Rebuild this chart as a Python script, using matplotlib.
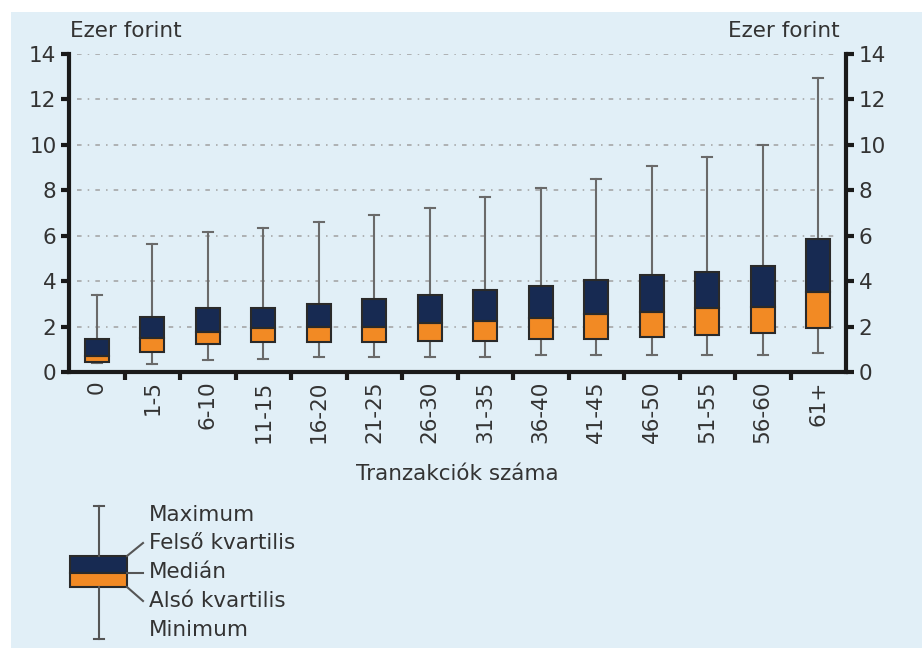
import matplotlib
matplotlib.use('Agg')
import matplotlib.pyplot as plt
from matplotlib.patches import Rectangle
from matplotlib.lines import Line2D

categories = ['0', '1-5', '6-10', '11-15', '16-20', '21-25', '26-30', '31-35',
              '36-40', '41-45', '46-50', '51-55', '56-60', '61+']
minimum = [0.38, 0.35, 0.53, 0.59, 0.67, 0.67, 0.67, 0.67, 0.75, 0.75, 0.75, 0.75, 0.75, 0.85]
lower_q = [0.43, 0.89, 1.22, 1.31, 1.31, 1.31, 1.38, 1.38, 1.45, 1.45, 1.53, 1.63, 1.70, 1.93]
median = [0.72, 1.51, 1.78, 1.92, 2.00, 2.00, 2.17, 2.25, 2.39, 2.56, 2.63, 2.81, 2.88, 3.51]
upper_q = [1.45, 2.44, 2.83, 2.83, 3.00, 3.23, 3.39, 3.63, 3.80, 4.04, 4.27, 4.42, 4.67, 5.86]
maximum = [3.38, 5.62, 6.18, 6.33, 6.59, 6.89, 7.21, 7.69, 8.09, 8.49, 9.07, 9.46, 10.0, 12.96]
yticks = [0, 2, 4, 6, 8, 10, 12, 14]
legend_labels = ['Maximum', 'Felső kvartilis', 'Medián', 'Alsó kvartilis', 'Minimum']

BG = '#e1eff7'
NAVY = '#172a52'
ORANGE = '#f28a24'
TXT = '#333333'
FS = 15.5
plt.rcParams['font.family'] = ['DejaVu Sans']

fig = plt.figure(figsize=(9.22, 6.48), dpi=100)
fig.patch.set_facecolor('white')
fig.patches.append(Rectangle((11 / 922, 0), 1, 1 - 12 / 648, transform=fig.transFigure,
                             facecolor=BG, edgecolor='none', zorder=-10))

ax = fig.add_axes([69 / 922, 1 - 372 / 648, (846 - 69) / 922, (372 - 54) / 648])
ax.set_facecolor('none')
n = len(categories)
x = list(range(n))
w = 0.43
for i in x:
    ax.plot([i, i], [minimum[i], lower_q[i]], color='#6a6a6a', lw=1.5, zorder=2)
    ax.plot([i, i], [upper_q[i], maximum[i]], color='#6a6a6a', lw=1.5, zorder=2)
    for v in (minimum[i], maximum[i]):
        ax.plot([i - 0.09, i + 0.09], [v, v], color='#6a6a6a', lw=1.5, zorder=2)
    ax.bar(i, median[i] - lower_q[i], bottom=lower_q[i], width=w, color=ORANGE,
           edgecolor='#2a2a2a', linewidth=1.5, zorder=3)
    ax.bar(i, upper_q[i] - median[i], bottom=median[i], width=w, color=NAVY,
           edgecolor='#2a2a2a', linewidth=1.5, zorder=3)

ax.set_xlim(-0.5, n - 0.5)
ax.set_ylim(0, 14)
for y in yticks[1:]:
    ax.plot([-0.35, n - 0.65], [y, y], color='#a0a0a0', lw=1.1,
            linestyle=(0, (3, 4, 1, 4)), zorder=1)

for s in ('left', 'right', 'bottom'):
    ax.spines[s].set_linewidth(3)
    ax.spines[s].set_color('#1a1a1a')
ax.spines['top'].set_visible(False)

ax.set_yticks(yticks)
ax.tick_params(axis='y', which='both', left=True, right=True, labelleft=True, labelright=True,
               direction='out', length=6, width=3, color='#1a1a1a', labelsize=FS,
               labelcolor=TXT, pad=3)
ax.set_xticks([i + 0.5 for i in x[:-1]], minor=False)
ax.set_xticklabels([])
ax.tick_params(axis='x', which='major', direction='out', length=6, width=3, color='#1a1a1a')
ax.set_xticks(x, minor=True)
ax.set_xticklabels(categories, minor=True, rotation=90, fontsize=FS, color=TXT)
ax.tick_params(axis='x', which='minor', length=0, pad=6)

fig.text(70 / 922, 1 - 31 / 648, 'Ezer forint', fontsize=FS, color=TXT, va='center', ha='left')
fig.text(840 / 922, 1 - 31 / 648, 'Ezer forint', fontsize=FS, color=TXT, va='center', ha='right')
fig.text(457 / 922, 1 - 474 / 648, 'Tranzakciók száma', fontsize=FS, color=TXT,
         va='center', ha='center')

# legend sketch
def fx(px):
    return px / 922

def fy(py):
    return 1 - py / 648

lkw = dict(transform=fig.transFigure, color='#555555', lw=1.5)
fig.lines.append(Line2D([fx(99), fx(99)], [fy(506), fy(556)], **lkw))
fig.lines.append(Line2D([fx(99), fx(99)], [fy(587), fy(639)], **lkw))
fig.lines.append(Line2D([fx(94), fx(104)], [fy(506), fy(506)], **lkw))
fig.lines.append(Line2D([fx(94), fx(104)], [fy(639), fy(639)], **lkw))
fig.patches.append(Rectangle((fx(70), fy(573)), fx(127) - fx(70), fy(556) - fy(573),
                             transform=fig.transFigure, facecolor=NAVY, edgecolor='#2a2a2a', lw=1.5))
fig.patches.append(Rectangle((fx(70), fy(587)), fx(127) - fx(70), fy(573) - fy(587),
                             transform=fig.transFigure, facecolor=ORANGE, edgecolor='#2a2a2a', lw=1.5))
fig.lines.append(Line2D([fx(127), fx(143)], [fy(556), fy(543)], **lkw))
fig.lines.append(Line2D([fx(127), fx(143)], [fy(573), fy(573)], **lkw))
fig.lines.append(Line2D([fx(127), fx(143)], [fy(587), fy(601)], **lkw))
for lab, py in zip(legend_labels, [515, 543, 572, 601, 630]):
    fig.text(fx(149), fy(py), lab, fontsize=FS, color=TXT, va='center', ha='left')

fig.savefig('out.png', dpi=100)
